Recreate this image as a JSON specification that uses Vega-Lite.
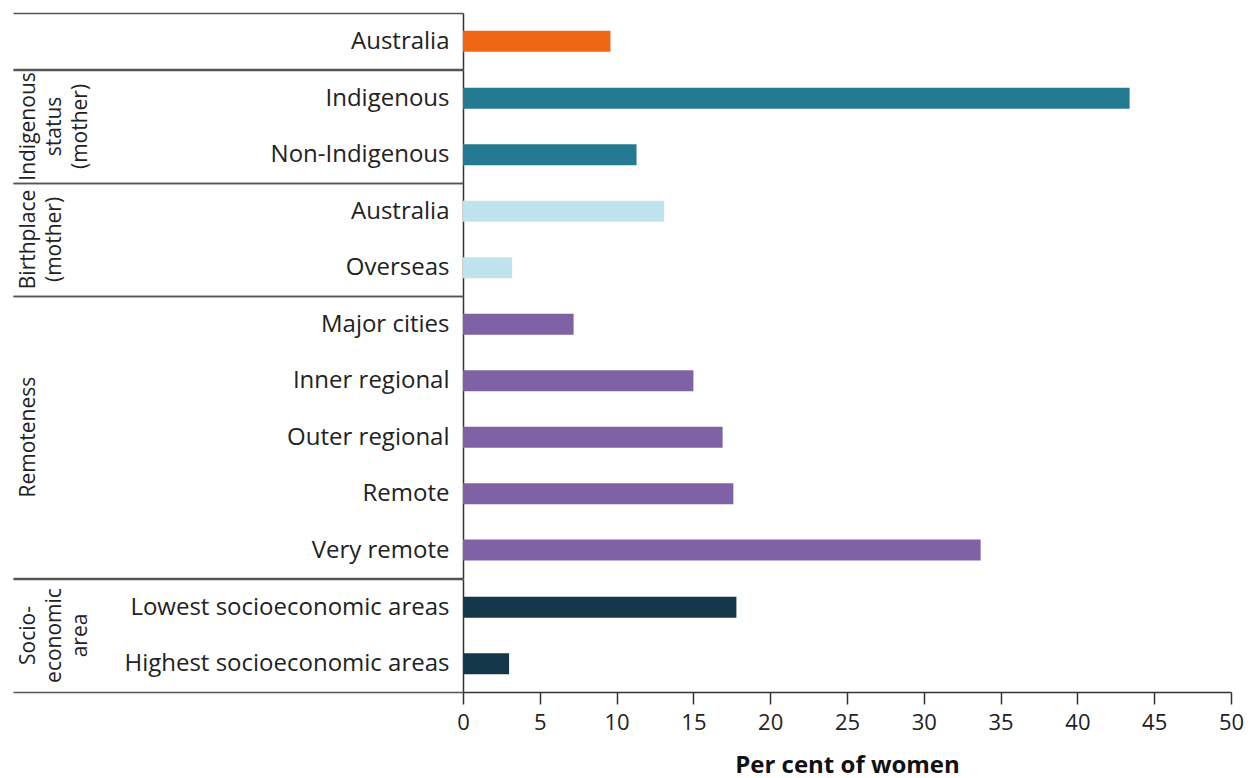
{
  "$schema": "https://vega.github.io/schema/vega-lite/v6.json",
  "padding": {"left": 12, "top": 1, "right": 5, "bottom": 3},
  "bounds": "flush",
  "data": {
    "values": [
      {"group": "Total", "key": "01|Australia", "value": 9.6},
      {"group": "Indigenous|status|(mother)", "key": "02|Indigenous", "value": 43.4},
      {"group": "Indigenous|status|(mother)", "key": "03|Non-Indigenous", "value": 11.3},
      {"group": "Birthplace|(mother)|", "key": "04|Australia", "value": 13.1},
      {"group": "Birthplace|(mother)|", "key": "05|Overseas", "value": 3.2},
      {"group": "Remoteness||", "key": "06|Major cities", "value": 7.2},
      {"group": "Remoteness||", "key": "07|Inner regional", "value": 15.0},
      {"group": "Remoteness||", "key": "08|Outer regional", "value": 16.9},
      {"group": "Remoteness||", "key": "09|Remote", "value": 17.6},
      {"group": "Remoteness||", "key": "10|Very remote", "value": 33.7},
      {"group": "Socio-|economic|area", "key": "11|Lowest socioeconomic areas", "value": 17.8},
      {"group": "Socio-|economic|area", "key": "12|Highest socioeconomic areas", "value": 3.0}
    ]
  },
  "facet": {
    "row": {
      "field": "group",
      "type": "nominal",
      "sort": ["Total", "Indigenous|status|(mother)", "Birthplace|(mother)|", "Remoteness||", "Socio-|economic|area"],
      "title": null,
      "header": {
        "labelExpr": "datum.value == 'Total' ? '' : split(datum.value, '|')",
        "labelAngle": -90,
        "labelAlign": "center",
        "labelBaseline": "top",
        "labelFont": "Open Sans",
        "labelFontSize": 21,
        "labelLineHeight": 26,
        "labelColor": "#222222",
        "labelPadding": 372,
        "labelLimit": 400
      }
    }
  },
  "spacing": {"row": 0},
  "resolve": {"scale": {"y": "independent"}},
  "spec": {
    "width": 768,
    "height": {"step": 56.47},
    "mark": {"type": "bar", "height": 21},
    "encoding": {
      "y": {
        "field": "key",
        "type": "nominal",
        "scale": {"paddingInner": 0, "paddingOuter": 0},
        "axis": {
          "title": null,
          "labelExpr": "slice(datum.label, 3)",
          "labelFont": "Open Sans",
          "labelFontSize": 24,
          "labelColor": "#222222",
          "labelPadding": -436,
          "labelLimit": 600,
          "tickBand": "extent",
          "tickSize": 450,
          "tickWidth": 1.5,
          "tickColor": {
            "condition": {"test": "datum.index < 0 || indexof(['01|Australia', '03|Non-Indigenous', '05|Overseas', '10|Very remote', '12|Highest socioeconomic areas'], datum.value) >= 0", "value": "#555555"},
            "value": "rgba(0,0,0,0)"
          },
          "domainColor": "#333333",
          "domainWidth": 1.5
        }
      },
      "x": {
        "field": "value",
        "type": "quantitative",
        "scale": {"domain": [0, 50], "nice": false},
        "axis": {
          "values": [0, 5, 10, 15, 20, 25, 30, 35, 40, 45, 50],
          "title": "Per cent of women",
          "titleFont": "Open Sans",
          "titleFontSize": 24,
          "titleFontWeight": "bold",
          "titleColor": "#111111",
          "titlePadding": 20,
          "labelFont": "Open Sans",
          "labelFontSize": 22,
          "labelColor": "#222222",
          "labelPadding": 8,
          "labelFlush": false,
          "tickSize": 12,
          "tickWidth": 1.5,
          "tickColor": "#333333",
          "domainColor": "#333333",
          "domainWidth": 1.5,
          "grid": false
        }
      },
      "color": {
        "field": "group",
        "type": "nominal",
        "scale": {
          "domain": ["Total", "Indigenous|status|(mother)", "Birthplace|(mother)|", "Remoteness||", "Socio-|economic|area"],
          "range": ["#ef6714", "#247a91", "#bfe3ef", "#7f62a5", "#15374a"]
        },
        "legend": null
      }
    }
  },
  "config": {
    "view": {"stroke": null},
    "font": "Open Sans",
    "axis": {"grid": false}
  }
}
